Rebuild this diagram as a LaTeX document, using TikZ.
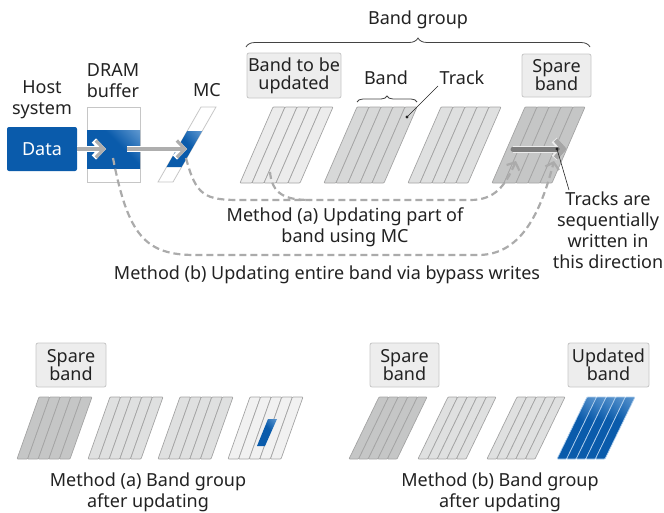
\documentclass[tikz,border=0pt]{standalone}
\usepackage{fontspec}
\setmainfont{Noto Sans}
\usetikzlibrary{arrows.meta,decorations.pathreplacing,calc}
\definecolor{bdark}{HTML}{0A5BAB}
\definecolor{blight}{HTML}{8DB9E4}
\definecolor{txt}{HTML}{222222}
\definecolor{boxfill}{HTML}{EDEDED}
\definecolor{boxline}{HTML}{C6C6C6}
\definecolor{bandline}{HTML}{A4A4A4}
\definecolor{bandA}{HTML}{ECECEC}
\definecolor{bandB}{HTML}{D7D8D8}
\definecolor{bandC}{HTML}{DFE0E0}
\definecolor{bandS}{HTML}{C5C6C6}
\definecolor{bandU}{HTML}{F1F1F1}
\definecolor{arrowgray}{HTML}{AEAEAE}
\definecolor{dashgray}{HTML}{ABABAB}
\definecolor{darkarrow}{HTML}{7D7D7D}
\pgfdeclarehorizontalshading{bluefade}{100bp}{color(0bp)=(bdark); color(58bp)=(bdark); color(100bp)=(blight)}
\newcommand\drawband[6]{%
  \foreach \k in {0,...,4}{%
    \path[#6] ({#1+\k*#3/5},#2) -- ({#1+(\k+1)*#3/5},#2) -- ({#1+(\k+1)*#3/5-#5},{#2+#4}) -- ({#1+\k*#3/5-#5},{#2+#4}) -- cycle;
  }}
\begin{document}
\begin{tikzpicture}[x=1pt,y=-1pt,
  every node/.style={font=\fontsize{18}{21}\selectfont, text=txt, inner sep=0pt},
  lbl/.style={align=center},
  lblbox/.style={align=center, fill=boxfill, draw=boxline, line width=0.8pt, rounded corners=2pt, font=\fontsize{18}{18}\selectfont},
  grayarrow/.style={draw=arrowgray, line width=3.2pt, -{Straight Barb[length=8pt,width=17pt]},
     preaction={draw=white, line width=6pt, -{Straight Barb[length=8pt,width=17pt]}}},
  dashline/.style={draw=dashgray, line width=2.2pt, dash pattern=on 7pt off 4pt},
  dasharrow/.style={dashline, -{Straight Barb[length=6pt,width=14pt]}},
  bandstyle/.style={draw=bandline, line width=0.7pt, fill=#1, rounded corners=0.8pt},
  blueband/.style={draw=blight!70!white, line width=0.7pt, shade, shading=bluefade, shading angle=40, rounded corners=0.8pt},
  bracestyle/.style={decorate, draw=txt!85, line width=0.8pt}
]
\useasboundingbox (0,0) rectangle (664,512);

% ---------- top part ----------
\node (bg) at (418,20) {Band group};
\draw[bracestyle, decoration={brace, amplitude=9pt}] (246,47) -- (590,47);

\node[lbl] (host) at (42,100) {Host\\system};
\node[fill=bdark, text=white, minimum width=70pt, minimum height=44pt, rounded corners=2pt] (data) at (42,149) {Data};

\node[lbl] (dramlbl) at (113,81) {DRAM\\buffer};
\node[draw=boxline, fill=white, minimum width=53pt, minimum height=75pt, line width=0.8pt] (dram) at (113.5,144.5) {};
\path[shade, shading=bluefade, shading angle=45] (87,130) rectangle (140,168);

\node (mclbl) at (207,90) {MC};
\draw[draw=boxline, fill=white, line width=0.8pt] (201,107) -- (216,107) -- (173,182) -- (158,182) -- cycle;
\path[shade, shading=bluefade, shading angle=40] (187.2,131) -- (202.2,131) -- (181.6,167) -- (166.6,167) -- cycle;

\coordinate (a1end) at (106,149);
\coordinate (a2start) at (127,149);
\coordinate (a2end) at (187,149);
\draw[grayarrow] (data.east) -- (a1end);
\draw[grayarrow] (a2start) -- (a2end);

% bands
\drawband{273}{107}{60}{76}{33}{bandstyle=bandA}
\drawband{357}{107}{60}{76}{33}{bandstyle=bandB}
\drawband{441}{107}{60}{76}{33}{bandstyle=bandC}
\drawband{525}{107}{60}{76}{33}{bandstyle=bandS}

\node[lblbox, minimum width=94pt, minimum height=45pt] (upd) at (294,75.5) {Band to be\\updated};
\node[lblbox, minimum width=69pt, minimum height=43pt] (spare) at (556.5,75.5) {Spare\\band};

\node (bandlbl) at (386,78) {Band};
\draw[bracestyle, decoration={brace, amplitude=6pt}] (357,102) -- (417,102);
\node (tracklbl) at (462,78) {Track};
\coordinate (trackdot) at (407,117);
\coordinate (trackend) at (438,86);
\draw[line width=0.6pt, txt] (trackdot) -- (trackend);
\fill[txt] (trackdot) circle (1.7);

% dashed routes
\coordinate (mcout) at (186,158);
\coordinate (b1out) at (270,172);
\coordinate (dramout) at (113,158);
\coordinate (tipa) at (516,161);
\coordinate (tipb) at (554,161);
\draw[dasharrow] (mcout) .. controls (196,196) and (205,200) .. (240,200) -- (470,200) .. controls (495,200) and (505,186) .. (tipa);
\draw[dashline] (b1out) .. controls (272,194) and (285,200) .. (310,200);
\draw[dasharrow] (dramout) .. controls (128,235) and (145,255) .. (195,255) -- (478,255) .. controls (520,255) and (540,215) .. (tipb);

% spare band write arrow
\coordinate (sa) at (513,149);
\coordinate (sb) at (567,149);
\draw[line width=5pt, darkarrow, line cap=round, -{Straight Barb[length=8pt,width=18pt,color=gray!70]},
  preaction={draw=white!85!gray, line width=7pt, -{Straight Barb[length=8pt,width=18pt]}}] (sa) -- (sb);
\coordinate (tdot) at (557,149);
\coordinate (tend) at (569,190);
\draw[line width=0.6pt, txt] (tdot) -- (tend);
\fill[txt] (tdot) circle (1.7);

\node[lbl] (tracks) at (608,230) {Tracks are\\sequentially\\written in\\this direction};
\node[lbl] (ma) at (345,227) {Method (a) Updating part of\\band using MC};
\node (mb) at (327,275) {Method (b) Updating entire band via bypass writes};

% ---------- bottom left ----------
\node[lblbox, minimum width=70pt, minimum height=44pt] (spareA) at (71,365) {Spare\\band};
\drawband{39}{397}{53}{62}{22}{bandstyle=bandS}
\drawband{110}{397}{53}{62}{22}{bandstyle=bandC}
\drawband{180}{397}{53}{62}{22}{bandstyle=bandC}
\drawband{250}{397}{53}{62}{22}{bandstyle=bandU}
\path[shade, shading=bluefade, shading angle=40] (268,419) -- (277,419) -- (265,446) -- (257,446) -- cycle;
\node[lbl] (resA) at (148,492) {Method (a) Band group\\after updating};

% ---------- bottom right ----------
\node[lblbox, minimum width=69pt, minimum height=44pt] (spareB) at (404.5,365) {Spare\\band};
\node[lblbox, minimum width=81pt, minimum height=44pt] (updB) at (608.5,365) {Updated\\band};
\drawband{379}{397}{48}{62}{30}{bandstyle=bandS}
\drawband{448}{397}{48}{62}{30}{bandstyle=bandC}
\drawband{517}{397}{48}{62}{30}{bandstyle=bandC}
\drawband{587}{397}{48}{62}{30}{blueband}
\node[lbl] (resB) at (500,492) {Method (b) Band group\\after updating};
\end{tikzpicture}
\end{document}
